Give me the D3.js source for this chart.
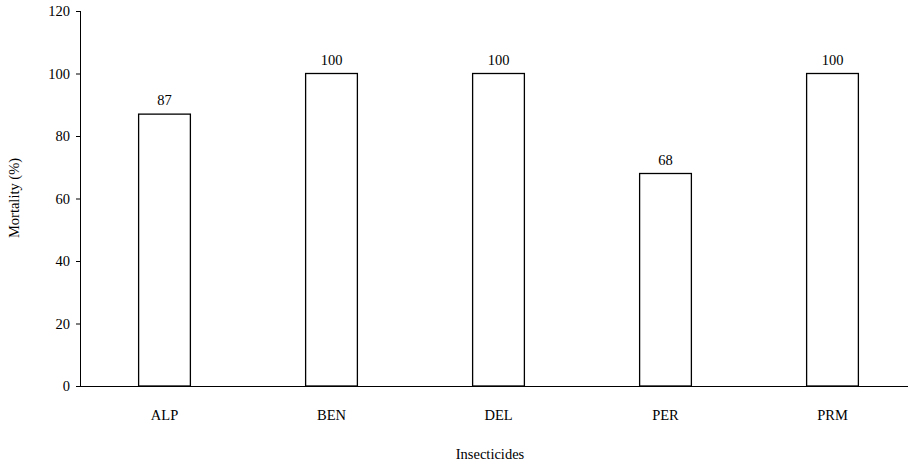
<!DOCTYPE html>
<html><head><meta charset="utf-8">
<script src="https://cdn.jsdelivr.net/npm/d3@7"></script>
<style>body{margin:0;background:#fff}svg{font-family:"Liberation Serif","Times New Roman",serif}</style>
</head><body>
<svg id="c" width="913" height="465"></svg>
<script>
const categories=["ALP","BEN","DEL","PER","PRM"];
const values=[87,100,100,68,100];
const yTicks=[0,20,40,60,80,100,120];
const svg=d3.select("#c");
const x=d3.scaleBand().domain(categories).range([81,916]).paddingInner(0.69).paddingOuter(0.345);
const y=d3.scaleLinear().domain([0,120]).range([386,11]);
const ya=svg.append("g").attr("transform","translate(81,0)").call(d3.axisLeft(y).tickValues(yTicks).tickSize(5).tickPadding(6));
ya.selectAll("text").attr("font-size",14.5).attr("font-family","Liberation Serif").attr("fill","#000");
ya.select(".domain").attr("d","M-0.5,11V386.5");
svg.append("line").attr("x1",81).attr("x2",908).attr("y1",386.5).attr("y2",386.5).attr("stroke","#000");
svg.selectAll("rect.b").data(values).join("rect").attr("class","b")
 .attr("x",(d,i)=>x(categories[i])).attr("width",x.bandwidth())
 .attr("y",d=>y(d)).attr("height",d=>y(0)-y(d))
 .attr("fill","#fff").attr("stroke","#000").attr("stroke-width",1.3);
svg.selectAll("text.v").data(values).join("text").attr("class","v")
 .attr("x",(d,i)=>x(categories[i])+x.bandwidth()/2).attr("y",d=>y(d)-9)
 .attr("text-anchor","middle").attr("font-size",14.5).text(d=>d);
svg.selectAll("text.c").data(categories).join("text").attr("class","c")
 .attr("x",d=>x(d)+x.bandwidth()/2).attr("y",420).attr("text-anchor","middle").attr("font-size",14.5).text(d=>d);
svg.append("text").attr("x",490).attr("y",459).attr("text-anchor","middle").attr("font-size",14.5).text("Insecticides");
svg.append("text").attr("transform","translate(19,198) rotate(-90)").attr("text-anchor","middle").attr("font-size",14.5).text("Mortality (%)");
</script></body></html>
